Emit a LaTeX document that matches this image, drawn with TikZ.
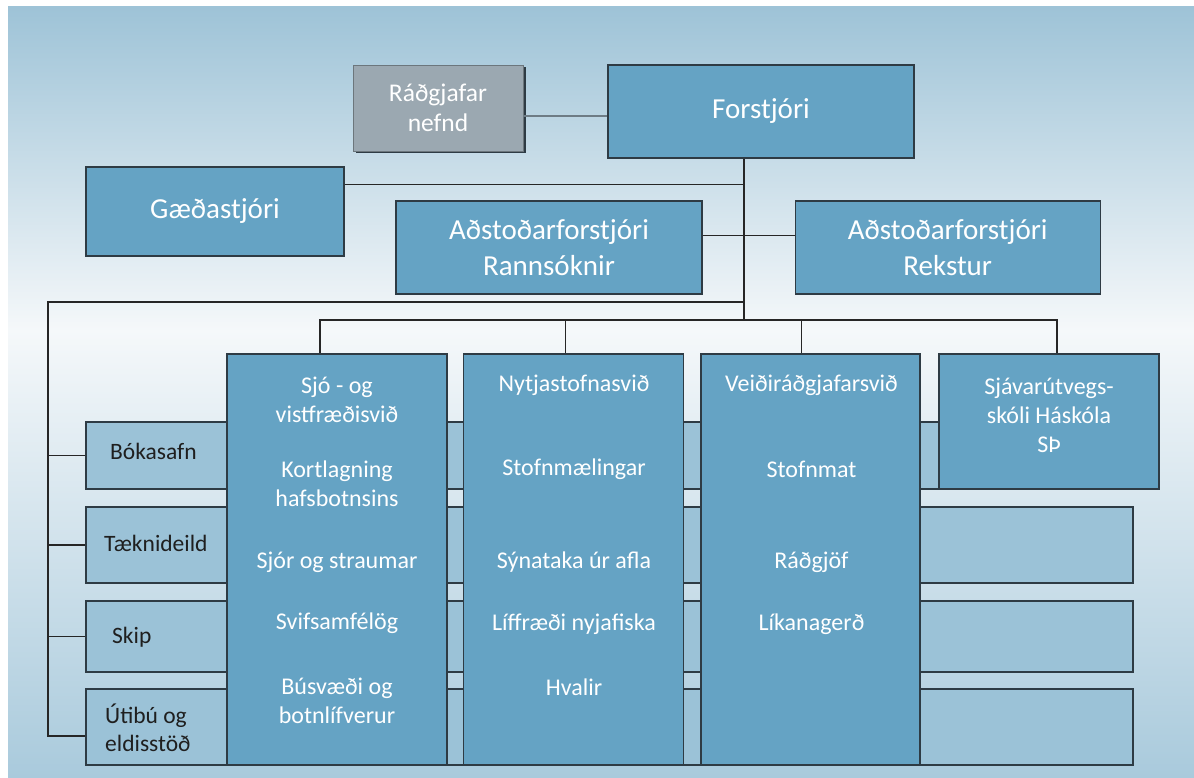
\documentclass[tikz,border=0pt]{standalone}
\usepackage{fontspec}
\setmainfont{Carlito}
\usepackage{tikz}
\usetikzlibrary{calc,positioning,shadows}
\definecolor{boxblue}{RGB}{101,163,196}
\definecolor{bandblue}{RGB}{155,194,215}
\definecolor{edgegray}{RGB}{46,59,68}
\definecolor{panelgray}{RGB}{155,168,177}
\definecolor{linkgray}{RGB}{110,124,133}
\definecolor{skytop}{RGB}{158,195,215}
\definecolor{skymid}{RGB}{245,248,250}
\definecolor{skybot}{RGB}{169,202,220}
\tikzstyle{headbox} = [rectangle, draw=edgegray, line width=1.2pt, fill=boxblue, text=white, align=center, font=\fontsize{29}{36}\selectfont]
\tikzstyle{graybox} = [rectangle, draw=panelgray!70!black, line width=0.8pt, fill=panelgray, text=white, align=center, font=\fontsize{25.5}{30}\selectfont, drop shadow={shadow xshift=2.5pt, shadow yshift=-2.5pt, fill=edgegray, opacity=1}]
\tikzstyle{colbox} = [rectangle, draw=edgegray, line width=1.2pt, fill=boxblue, minimum width=220pt, minimum height=411pt]
\tikzstyle{bandbox} = [rectangle, draw=edgegray, line width=1.2pt, fill=bandblue]
\tikzstyle{coltxt} = [inner sep=0pt, text=white, align=center, font=\fontsize{24}{29}\selectfont]
\tikzstyle{bandtxt} = [inner sep=0pt, anchor=west, text=black!88, align=left, font=\fontsize{23.5}{28}\selectfont]
\tikzstyle{conn} = [draw=black!85, line width=1.1pt]

\begin{document}
\begin{tikzpicture}[x=1pt, y=-1pt]
			\useasboundingbox (0,0) rectangle (1194,778);
			\shade [top color=skytop, bottom color=skymid] (8,7) rectangle (1194,331);
			\shade [top color=skymid, bottom color=skybot] (8,330) rectangle (1194,778);
			
			%support units
			\node (bok) [bandbox, minimum width=854pt, minimum height=67pt] at (513,455.5) {};
			\node (taek) [bandbox, minimum width=1047pt, minimum height=76pt] at (609.5,545) {};
			\node (skip) [bandbox, minimum width=1047pt, minimum height=71pt] at (609.5,636.5) {};
			\node (utib) [bandbox, minimum width=1047pt, minimum height=76pt] at (609.5,727) {};
			\node (bokt) [bandtxt] at (110,451) {Bókasafn};
			\node (taekt) [bandtxt] at (104,543) {Tæknideild};
			\node (skipt) [bandtxt] at (112,637) {Skip};
			\node (utibt) [bandtxt] at (105,728) {Útibú og\\eldisstöð};
			
			%divisions
			\node (sjo) [colbox] at (337,559.5) {};
			\node (nyt) [colbox, right=15.5pt of sjo] {};
			\node (veid) [colbox, minimum width=219pt, right=16pt of nyt] {};
			\node (skol) [colbox, minimum height=135pt] at (1049,421.5) {};
			
			\node (sjo1) [coltxt] at (337,399.5) {Sjó - og\\vistfræðisvið};
			\node (sjo2) [coltxt] at (337,483.5) {Kortlagning\\hafsbotnsins};
			\node (sjo3) [coltxt] at (337,562) {Sjór og straumar};
			\node (sjo4) [coltxt] at (337,623) {Svifsamfélög};
			\node (sjo5) [coltxt] at (337,701) {Búsvæði og\\botnlífverur};
			\node (nyt1) [coltxt] at (574,385) {Nytjastofnasvið};
			\node (nyt2) [coltxt] at (574,469) {Stofnmælingar};
			\node (nyt3) [coltxt] at (574,562) {Sýnataka úr afla};
			\node (nyt4) [coltxt] at (574,624) {Líffræði nyjafiska};
			\node (nyt5) [coltxt] at (574,687) {Hvalir};
			\node (veid1) [coltxt] at (811.5,385) {Veiðiráðgjafarsvið};
			\node (veid2) [coltxt] at (811.5,469) {Stofnmat};
			\node (veid3) [coltxt] at (811.5,562) {Ráðgjöf};
			\node (veid4) [coltxt] at (811.5,624) {Líkanagerð};
			\node (skol1) [coltxt] at (1049,415) {Sjávarútvegs-\\skóli Háskóla\\SÞ};
			
			%management
			\node (radg) [graybox, minimum width=170pt, minimum height=86pt] at (438,108) {Ráðgjafar\\nefnd};
			\node (forst) [headbox, minimum width=306pt, minimum height=93pt] at (761,111.5) {Forstjóri};
			\node (gaed) [headbox, minimum width=258pt, minimum height=89pt] at (215,211.5) {Gæðastjóri};
			\node (rann) [headbox, minimum width=306pt, minimum height=93pt] at (549,247.5) {Aðstoðarforstjóri\\Rannsóknir};
			\node (rekst) [headbox, minimum width=305pt, minimum height=93pt, right=92pt of rann] {Aðstoðarforstjóri\\Rekstur};
			
			%lines
			\coordinate (bus) at (744,320);
			\coordinate (rail) at (48,302);
			\coordinate (gq) at ([yshift=27pt]gaed.east);
			\draw [linkgray, line width=1.1pt] ([yshift=-8pt]radg.east) -- ([yshift=-4.5pt]forst.west);
			\draw [conn] (bus |- forst.south) -- (bus);
			\draw [conn] (gq) -- (gq -| bus);
			\draw [conn] ([yshift=12pt]rann.east) -- ([yshift=12pt]rekst.west);
			\draw [conn] ([xshift=-17pt]sjo.north) |- (bus) -| ([xshift=8pt]skol.north);
			\draw [conn] ([xshift=-8pt]nyt.north) -- ++(0,-34);
			\draw [conn] ([xshift=-8.5pt]veid.north) -- ++(0,-34);
			\draw [conn] (rail -| bus) -- (rail) |- ([yshift=-9pt]utib.west);
			\draw [conn] (rail |- bok.west) -- (bok.west);
			\draw [conn] (rail |- taek.west) -- (taek.west);
			\draw [conn] (rail |- skip.west) -- (skip.west);
			
		\end{tikzpicture}
\end{document}
